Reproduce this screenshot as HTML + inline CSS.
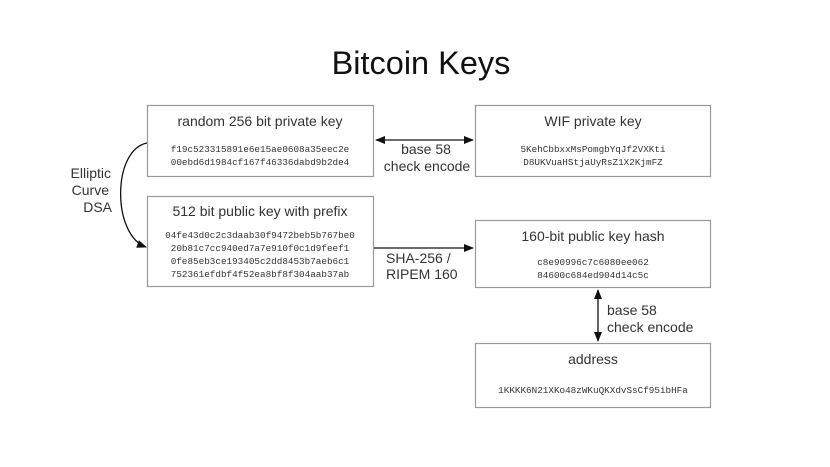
<!DOCTYPE html>
<html><head><meta charset="utf-8"><style>
html,body{margin:0;padding:0;background:#fff;}
svg{display:block}
.t{font-family:"Liberation Sans",Arial,sans-serif;fill:#333;}
.m{font-family:"Liberation Mono",monospace;fill:#333;font-size:9.3px;}
</style></head><body>
<svg width="830" height="467" viewBox="0 0 830 467" xmlns="http://www.w3.org/2000/svg">
<defs>
<marker id="a" markerWidth="10" markerHeight="8" refX="9" refY="4" orient="auto" markerUnits="userSpaceOnUse">
<path d="M0,0 L10,4 L0,8 z" fill="#111"/></marker>
<marker id="b" markerWidth="10" markerHeight="8" refX="1" refY="4" orient="auto" markerUnits="userSpaceOnUse">
<path d="M10,0 L0,4 L10,8 z" fill="#111"/></marker>
</defs>
<text x="421" y="74" text-anchor="middle" class="t" style="font-size:32.5px;fill:#111">Bitcoin Keys</text>
<g fill="#fff" stroke="#999" stroke-width="1.2">
<rect x="147.5" y="105.5" width="226" height="71"/>
<rect x="475.5" y="105.5" width="235" height="71"/>
<rect x="147.5" y="196.5" width="226" height="90"/>
<rect x="475.5" y="220.5" width="235" height="67"/>
<rect x="475.5" y="343.5" width="235" height="64"/>
</g>
<g stroke="#111" stroke-width="1.3" fill="none">
<line x1="376" y1="140" x2="473" y2="140" marker-start="url(#b)" marker-end="url(#a)"/>
<line x1="374" y1="248" x2="473" y2="248" marker-end="url(#a)"/>
<line x1="598" y1="290" x2="598" y2="341" marker-start="url(#b)" marker-end="url(#a)"/>
<path d="M147,143 C112,150 112,235 146,247" marker-end="url(#a)"/>
</g>
<g class="t" text-anchor="middle" style="font-size:14px">
<text x="260" y="126">random 256 bit private key</text>
<text x="593" y="126">WIF private key</text>
<text x="260" y="216">512 bit public key with prefix</text>
<text x="593" y="241">160-bit public key hash</text>
<text x="593" y="364">address</text>
<text x="426" y="154">base 58</text>
<text x="427" y="171">check encode</text>
</g>
<g class="t" style="font-size:14px">
<text x="386" y="263">SHA-256 /</text>
<text x="386" y="279">RIPEM 160</text>
<text x="607" y="315">base 58</text>
<text x="607" y="332">check encode</text>
</g>
<g class="t" text-anchor="end" style="font-size:14px">
<text x="111" y="178">Elliptic</text>
<text x="109" y="195">Curve</text>
<text x="112" y="212">DSA</text>
</g>
<g class="m" text-anchor="middle">
<text x="260" y="152">f19c523315891e6e15ae0608a35eec2e</text>
<text x="260" y="165">00ebd6d1984cf167f46336dabd9b2de4</text>
<text x="260" y="238">04fe43d0c2c3daab30f9472beb5b767be0</text>
<text x="260" y="251">20b81c7cc940ed7a7e910f0c1d9feef1</text>
<text x="260" y="264">0fe85eb3ce193405c2dd8453b7aeb6c1</text>
<text x="260" y="277">752361efdbf4f52ea8bf8f304aab37ab</text>
<text x="593" y="152">5KehCbbxxMsPomgbYqJf2VXKti</text>
<text x="593" y="165">D8UKVuaHStjaUyRsZ1X2KjmFZ</text>
<text x="593" y="265">c8e90996c7c6080ee062</text>
<text x="593" y="278">84600c684ed904d14c5c</text>
<text x="593" y="393">1KKKK6N21XKo48zWKuQKXdvSsCf95ibHFa</text>
</g>
</svg>
</body></html>
